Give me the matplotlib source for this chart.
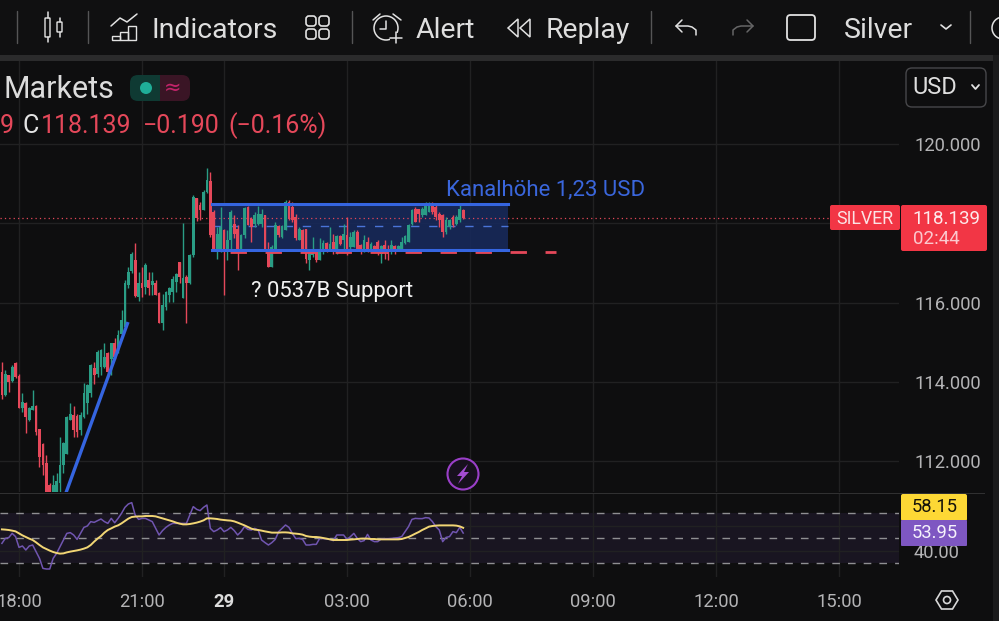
"""
Silver 5 min chart with channel and RSI pane
"""

import numpy as np
import matplotlib
matplotlib.use('Agg')
import matplotlib.pyplot as plt
from matplotlib.patches import Rectangle, FancyBboxPatch, Circle, Polygon

plt.rcParams['font.family'] = ['Roboto', 'DejaVu Sans']

# Candles (5 min)
opens = [114.25, 113.67, 114.17, 114.03, 114.48, 114.14, 113.33, 113.47, 113.03, 113.29,
         113.39, 112.80, 112.42, 111.94, 111.40, 111.00, 111.20, 111.44, 111.90, 112.19,
         113.05, 113.16, 113.14, 112.78, 113.12, 113.46, 113.71, 114.34, 114.21, 114.38,
         114.38, 114.72, 114.59, 114.97, 114.88, 115.20, 115.39, 116.44, 116.81, 117.07,
         116.15, 116.49, 116.40, 116.57, 116.44, 116.49, 116.25, 115.48, 115.90, 116.19,
         116.28, 116.53, 117.03, 116.11, 116.64, 116.49, 117.20, 118.63, 118.46, 118.35,
         118.80, 119.08, 118.29, 117.28, 117.36, 117.83, 117.28, 117.57, 117.99, 117.87,
         117.36, 117.70, 118.41, 118.12, 117.99, 117.99, 117.99, 118.20, 117.28, 116.90,
         117.36, 117.93, 117.66, 117.83, 118.54, 118.41, 118.16, 117.59, 117.84, 117.87,
         117.07, 117.20, 117.32, 117.07, 117.32, 117.51, 117.36, 117.53, 117.36, 117.68,
         117.57, 117.70, 117.41, 117.41, 117.78, 117.45, 117.32, 117.53, 117.30, 117.42,
         117.53, 117.24, 117.45, 117.36, 117.28, 117.42, 117.34, 117.36, 117.51, 117.53,
         117.99, 118.37, 118.37, 118.20, 118.20, 118.29, 118.50, 118.41, 118.25, 118.20,
         117.78, 117.91, 118.16, 117.99, 118.08, 118.35]
highs = [114.51, 114.30, 114.17, 114.42, 114.51, 114.21, 113.71, 113.50, 113.37, 113.79,
         113.41, 112.82, 112.45, 112.15, 111.44, 111.65, 111.69, 112.61, 112.49, 113.14,
         113.47, 113.39, 113.20, 113.24, 113.98, 113.94, 114.46, 114.51, 114.80, 114.84,
         114.99, 114.76, 114.97, 115.10, 115.31, 115.81, 116.57, 116.91, 117.28, 117.50,
         116.78, 116.91, 117.01, 116.78, 116.78, 116.57, 116.28, 116.23, 116.30, 116.40,
         116.67, 116.74, 117.03, 118.00, 116.70, 117.23, 118.71, 118.65, 118.55, 118.84,
         119.41, 119.30, 118.33, 117.91, 118.41, 117.87, 117.83, 118.33, 118.20, 117.95,
         117.74, 118.41, 118.43, 118.16, 118.29, 118.43, 118.37, 118.20, 117.53, 117.45,
         118.04, 117.95, 117.95, 118.58, 118.58, 118.54, 118.25, 117.91, 117.87, 117.87,
         117.32, 117.66, 117.36, 117.62, 117.57, 117.53, 117.91, 117.74, 117.70, 117.70,
         117.99, 118.16, 117.78, 117.83, 117.83, 117.49, 117.70, 117.66, 117.53, 117.45,
         117.57, 117.45, 117.57, 117.45, 117.57, 117.45, 117.45, 117.66, 117.70, 117.99,
         118.37, 118.41, 118.37, 118.41, 118.54, 118.54, 118.54, 118.46, 118.29, 118.25,
         118.16, 118.12, 118.20, 118.20, 118.50, 118.37]
lows = [113.58, 113.64, 113.75, 114.00, 114.09, 113.33, 113.24, 112.70, 113.00, 113.29,
        112.66, 111.86, 111.65, 111.00, 110.90, 110.90, 111.10, 111.20, 111.69, 112.19,
        113.03, 112.61, 112.61, 112.66, 113.08, 113.20, 113.62, 113.94, 114.13, 114.17,
        114.34, 114.21, 114.17, 114.59, 114.72, 115.18, 115.39, 116.36, 116.74, 116.15,
        116.05, 116.15, 116.23, 116.19, 116.19, 116.19, 115.48, 115.31, 115.81, 116.02,
        116.02, 116.28, 116.49, 116.11, 115.48, 116.47, 117.16, 118.07, 118.08, 118.34,
        118.76, 117.66, 117.32, 117.11, 117.28, 116.19, 117.07, 117.32, 117.62, 116.82,
        117.32, 117.62, 117.95, 117.53, 117.91, 117.95, 117.91, 117.32, 116.90, 116.90,
        117.28, 117.66, 117.62, 117.83, 118.08, 118.04, 117.57, 117.57, 117.32, 116.99,
        116.82, 117.15, 117.03, 117.07, 117.24, 117.28, 117.32, 117.24, 117.24, 117.45,
        117.32, 117.20, 117.36, 117.41, 117.32, 117.24, 117.28, 117.28, 117.28, 117.28,
        117.20, 116.99, 117.11, 117.07, 117.24, 117.24, 117.32, 117.36, 117.49, 117.53,
        117.95, 118.04, 118.04, 118.16, 118.20, 118.29, 118.25, 118.08, 117.91, 117.66,
        117.74, 117.87, 117.91, 117.95, 118.04, 118.12]
closes = [113.67, 114.21, 114.00, 114.38, 114.13, 113.35, 113.50, 113.12, 113.33, 113.39,
          112.74, 112.11, 111.90, 111.10, 111.00, 111.40, 111.50, 111.90, 112.45, 113.12,
          113.20, 112.78, 112.74, 113.16, 113.71, 113.92, 114.42, 114.17, 114.76, 114.80,
          114.63, 114.25, 114.97, 114.63, 115.18, 115.56, 116.49, 116.78, 117.23, 116.17,
          116.49, 116.36, 116.95, 116.36, 116.55, 116.19, 115.48, 115.94, 116.28, 116.38,
          116.59, 116.72, 116.65, 116.61, 116.50, 117.20, 118.67, 118.13, 118.34, 118.80,
          119.09, 117.71, 117.36, 117.74, 117.91, 117.32, 117.57, 118.29, 117.74, 117.32,
          117.70, 118.40, 117.95, 117.91, 118.20, 118.25, 118.25, 117.36, 116.90, 117.41,
          117.95, 117.70, 117.93, 118.54, 118.12, 118.08, 117.62, 117.87, 117.36, 117.11,
          117.28, 117.32, 117.07, 117.28, 117.51, 117.32, 117.49, 117.32, 117.68, 117.47,
          117.74, 117.32, 117.66, 117.78, 117.36, 117.28, 117.57, 117.28, 117.49, 117.30,
          117.28, 117.42, 117.28, 117.24, 117.45, 117.28, 117.42, 117.53, 117.67, 117.95,
          118.35, 118.04, 118.25, 118.37, 118.46, 118.50, 118.29, 118.16, 118.08, 117.78,
          118.08, 118.08, 117.95, 118.16, 118.37, 118.139]

# RSI and its moving average
rsi = [45.7, 49.7, 50.3, 53.7, 51.1, 42.5, 43.6, 40.4, 43.6, 44.4, 39.1, 33.7, 25.7, 25.2,
       25.2, 33.7, 37.7, 43.1, 48.4, 53.7, 54.3, 52.4, 48.9, 53.7, 58.5, 59.6, 63.1, 62.5,
       63.9, 65.2, 63.1, 61.7, 65.7, 62.2, 65.7, 69.7, 74.5, 77.2, 78.3, 68.4, 64.9, 65.7,
       65.7, 64.4, 63.1, 57.7, 52.4, 55.9, 58.5, 60.4, 61.7, 61.7, 61.7, 61.7, 61.7, 68.4,
       75.1, 72.9, 71.9, 74.5, 76.4, 57.7, 55.1, 56.4, 58.3, 55.1, 56.4, 58.5, 55.9, 52.4,
       55.1, 59.1, 56.9, 56.4, 57.7, 56.4, 48.4, 46.3, 44.4, 46.3, 48.9, 55.1, 57.7, 60.4,
       58.5, 53.7, 49.5, 49.7, 48.9, 44.4, 44.4, 44.9, 44.9, 49.7, 49.5, 49.2, 48.9, 47.9,
       52.4, 52.4, 52.4, 48.9, 51.1, 53.7, 49.7, 47.1, 47.9, 52.9, 48.4, 47.1, 47.1, 49.2,
       49.5, 49.5, 49.7, 50.0, 50.3, 51.1, 55.1, 59.1, 64.9, 65.7, 65.5, 65.5, 66.3, 66.0,
       63.1, 59.1, 56.4, 47.1, 50.5, 51.1, 55.1, 54.3, 58.5, 53.95]
rsi_ma = [56.9, 56.7, 56.4, 55.9, 55.3, 53.7, 52.1, 50.8, 49.5, 48.4, 46.5, 44.4, 42.5, 41.2,
          39.9, 38.8, 38.0, 37.5, 37.7, 38.5, 39.1, 39.6, 40.1, 40.7, 41.5, 42.5, 44.4, 47.1,
          49.5, 51.6, 54.3, 56.4, 57.7, 59.1, 60.1, 61.7, 63.6, 65.5, 66.8, 67.1, 67.3, 67.3,
          67.6, 67.6, 67.6, 67.3, 66.5, 65.7, 64.9, 64.1, 63.3, 62.3, 61.5, 60.9, 60.9, 61.2,
          61.7, 62.3, 63.1, 64.1, 65.7, 65.7, 65.5, 65.2, 64.7, 64.4, 64.1, 63.9, 63.3, 62.3,
          61.2, 60.1, 58.8, 57.5, 56.7, 56.4, 55.9, 55.3, 54.8, 54.3, 54.3, 54.3, 54.5, 54.5,
          54.3, 53.7, 53.5, 53.2, 52.7, 51.6, 51.1, 50.8, 50.8, 50.5, 50.0, 49.5, 48.9, 48.4,
          48.4, 48.4, 48.4, 48.4, 48.7, 48.9, 49.2, 49.5, 49.5, 49.5, 49.2, 49.2, 48.9, 48.9,
          48.9, 48.9, 48.9, 48.9, 48.9, 49.2, 50.0, 50.8, 52.1, 53.5, 54.8, 56.4, 57.7, 59.1,
          59.6, 59.9, 60.1, 60.1, 60.1, 60.1, 60.1, 59.9, 59.3, 58.15]

# Axis ticks, in bars from the first candle
time_ticks = [5, 41, 65, 101, 137, 173, 209, 245]
time_labels = ['18:00', '21:00', '29', '03:00', '06:00', '09:00', '12:00', '15:00']
price_ticks = [112, 114, 116, 118, 120]
price_labels = ['112.000', '114.000', '116.000', '', '120.000']
rsi_ticks = [40, 60]
rsi_labels = ['40.00', '']

# Drawings
last_price = 118.139
channel_top = 118.50
channel_bottom = 117.33
channel_mid = 117.93
support_level = 117.28
channel_start, channel_end = 61.5, 148.1
trend_x = [18.75, 36.9]
trend_y = [111.2, 115.51]

BG = '#0e0e0f'
GRID = '#212122'
GREEN = '#2a9d85'
RED = '#e5485a'
BLUE = '#3565e0'
LABEL = '#b4b4b6'
W, H = 999, 621


def add_axes_px(fig, left, top, right, bottom, **kw):
    return fig.add_axes([left / W, 1 - bottom / H, (right - left) / W, (bottom - top) / H], **kw)


fig = plt.figure(figsize=(W / 100, H / 100), dpi=100, facecolor=BG)

# Price pane
ax = add_axes_px(fig, 0, 61, 899, 492, facecolor=BG)
x = np.arange(len(closes))
o, h, l, c = map(np.array, (opens, highs, lows, closes))
colors = np.where(c >= o, GREEN, RED)
ax.fill_between([channel_start, channel_end], channel_bottom, channel_top,
                color='#17295a', alpha=0.9, lw=0, zorder=2.2)
ax.plot([channel_start, channel_end], [channel_mid] * 2, color='#4a74d8', lw=1,
        ls=(0, (6, 7)), zorder=2.4)
ax.vlines(x, l, h, colors=colors, lw=1.0, zorder=3)
ax.bar(x, np.maximum(np.abs(c - o), 0.02), bottom=np.minimum(o, c), width=0.8,
       color=colors, lw=0, zorder=3)

ax.axhline(last_price, color=RED, lw=0.9, ls=(0, (1, 2.5)), zorder=2.6)
ax.plot([channel_start, 162.2], [support_level] * 2, color=RED, lw=2,
        ls=(6.1, (5.9, 6.7)), zorder=4)
ax.plot([channel_start, channel_end], [channel_top] * 2, color=BLUE, lw=2.2, zorder=5)
ax.plot([channel_start, channel_end], [channel_bottom] * 2, color=BLUE, lw=2.2, zorder=5)
ax.plot(trend_x, trend_y, color=BLUE, lw=2.4, zorder=5, solid_capstyle='butt')
ax.text(130, 118.84, 'Kanalhöhe 1,23 USD', color='#3a66dc', fontsize=15.9,
        va='center', ha='left', zorder=6)
ax.text(73, 116.27, '? 0537B Support', color='#f2f2f2', fontsize=15.8,
        va='center', ha='left', zorder=6)

ax.set_xlim(-0.56, 262.55)
ax.set_ylim(111.22, 122.10)
ax.set_xticks(time_ticks)
ax.set_xticklabels([])
ax.yaxis.tick_right()
ax.set_yticks(price_ticks)
ax.set_yticklabels(price_labels, color=LABEL, fontsize=13.2)
ax.tick_params(length=0, pad=10.8)
ax.grid(True, color=GRID, lw=1)
ax.set_axisbelow(True)
for s in ax.spines.values():
    s.set_visible(False)

# RSI pane
ax2 = add_axes_px(fig, 0, 494, 899, 577, facecolor=BG)
ax2.axhspan(30, 70, color='#7e57c2', alpha=0.10, lw=0)
for lev in (30, 50, 70):
    ax2.axhline(lev, color='#8f8f92', lw=1, ls=(0, (5.5, 5.8)), zorder=2)
ax2.plot(x, rsi, color='#7055b0', lw=1.1, zorder=3)
ax2.plot(x, rsi_ma, color='#f2d675', lw=1.4, zorder=4)
ax2.set_xlim(-0.56, 262.55)
ax2.set_ylim(18.8, 85.2)
ax2.set_xticks(time_ticks)
ax2.set_xticklabels(time_labels, color=LABEL, fontsize=13.2)
ax2.get_xticklabels()[2].set_fontweight('bold')
ax2.get_xticklabels()[2].set_color('#dcdcdc')
ax2.yaxis.tick_right()
ax2.set_yticks(rsi_ticks)
ax2.set_yticklabels(rsi_labels, color=LABEL, fontsize=13.2)
ax2.tick_params(axis='x', length=0, pad=11.8)
ax2.tick_params(axis='y', length=0, pad=10.8)
ax2.grid(True, color=GRID, lw=1)
for s in ax2.spines.values():
    s.set_visible(False)

# Toolbar and labels, in pixels
ui = fig.add_axes([0, 0, 1, 1], facecolor='none', zorder=10)
ui.set_xlim(0, W)
ui.set_ylim(H, 0)
ui.axis('off')

TXT = '#dedede'
ICON = '#e2e2e2'


def line(xs, ys, color=ICON, lw=1.1):
    ui.plot(xs, ys, color=color, lw=lw, solid_capstyle='round')


def rbox(x0, y0, x1, y1, r=2, fc='none', ec='none', lw=1.0):
    ui.add_patch(FancyBboxPatch((x0 + r, y0 + r), x1 - x0 - 2 * r, y1 - y0 - 2 * r,
                                boxstyle=f'round,pad={r},rounding_size={r}',
                                fc=fc, ec=ec, lw=lw))


def label(px, py, s, **kw):
    # va='center' sits a little high for this font
    kw.setdefault('va', 'center')
    ui.text(px, py + 2, s, **kw)


ui.add_patch(Rectangle((0, 0), W, 55, fc='#101011', lw=0))
ui.add_patch(Rectangle((0, 55), W, 6, fc='#2b2b2c', lw=0))
ui.add_patch(Rectangle((993, 55), 6, H, fc='#1b1b1c', lw=0))
ui.add_patch(Rectangle((0, 492.5), 985, 1, fc='#303031', lw=0))

for sx in (17, 88, 352, 651, 970):
    line([sx, sx], [11, 43], color='#555556', lw=1)

# candle icon
rbox(45, 18, 50, 37, r=0.5, ec=ICON)
rbox(57, 22, 62, 32, r=0.5, ec=ICON)
line([47.5, 47.5], [12, 18]); line([47.5, 47.5], [37, 42])
line([59.5, 59.5], [18, 22]); line([59.5, 59.5], [32, 37])
# indicators icon
line([111, 120, 127, 137], [26, 18, 22, 14])
for bx, bt in ((112, 36), (120, 32), (128, 26)):
    ui.add_patch(Rectangle((bx, bt), 8, 40 - bt, fc='none', ec=ICON, lw=1))
# grid icon
for gx in (306, 319):
    for gy in (16, 29):
        rbox(gx, gy, gx + 10, gy + 10, r=3, ec=ICON, lw=1.2)
# alert icon
ui.add_patch(Circle((386, 28), 12, fc='none', ec=ICON, lw=1.1))
ui.add_patch(Rectangle((390, 33), 12, 12, fc='#101011', lw=0))
line([386, 386, 380], [21, 29, 29])
line([396, 396], [32, 43]); line([390, 402], [38, 38])
line([373, 380], [20, 14]); line([393, 401], [14, 20])
# replay icon
ui.add_patch(Polygon([[518, 19], [508, 28], [518, 37]], closed=True, fc='none', ec=ICON, lw=1.1))
ui.add_patch(Polygon([[530, 19], [520, 28], [530, 37]], closed=True, fc='none', ec=ICON, lw=1.1))
# undo and redo
line([682, 676, 682], [20, 26, 32])
line([676, 688, 692, 696, 696], [26, 26, 27, 30, 35])
line([747, 753, 747], [20, 26, 32], color='#666667')
line([753, 741, 737, 733, 733], [26, 26, 27, 30, 35], color='#666667')
# layout square
rbox(787, 15, 815, 40, r=3.5, ec=ICON, lw=1.3)
# dropdown chevron and the cut off circle
line([941, 946, 951], [25, 29, 25], lw=1.2)
ui.add_patch(Circle((1003, 28), 11, fc='none', ec=ICON, lw=1.1))

fs = 20.4
label(151, 28, 'Indicators', color=TXT, fontsize=fs)
label(416, 28, 'Alert', color=TXT, fontsize=fs)
label(546, 28, 'Replay', color=TXT, fontsize=fs)
label(844, 28, 'Silver', color=TXT, fontsize=fs)

# symbol header
label(4, 87, 'Markets', color='#dcdcdc', fontsize=22)
rbox(130, 75, 160, 101, r=8, fc='#0f3a33')
rbox(158, 75, 190, 101, r=8, fc='#3a1525')
ui.add_patch(Rectangle((150, 75), 10, 26, fc='#0f3a33', lw=0))
ui.add_patch(Rectangle((160, 75), 10, 26, fc='#3a1525', lw=0))
ui.add_patch(Circle((146, 88), 6, fc='#1fae98', lw=0))
ui.text(173, 88, '≈', color='#c2246a', fontsize=15, va='center', ha='center',
        family='DejaVu Sans')

ry = 124
label(0, ry, '9', color=RED, fontsize=18)
label(22, ry, 'C', color='#e4e4e4', fontsize=18)
label(41, ry, '118.139', color=RED, fontsize=18)
label(143, ry, '−0.190', color=RED, fontsize=18)
label(228, ry, '(−0.16%)', color=RED, fontsize=18)

# currency box
rbox(906, 68, 986, 107, r=6, fc='#0e0e0f', ec='#47474a', lw=1)
label(912, 86, 'USD', color=TXT, fontsize=17)
line([972, 975.5, 979], [85, 89, 85], lw=1.3)

# price labels
rbox(830, 205, 900, 230, r=2, fc='#f23645')
label(865, 216.5, 'SILVER', color='#fbe3e5', fontsize=12.8, ha='center')
rbox(901, 205, 987, 251, r=2, fc='#f23645')
label(946, 216.5, '118.139', color='#fdeaec', fontsize=13.5, ha='center')
label(913, 237.5, '02:44', color='#fbc9ce', fontsize=13.5, ha='left')

# RSI labels, the 40.00 tick label stays behind them
rbox(901, 494, 967, 521, r=2, fc='#fdd835')
rbox(901, 520, 967, 546, r=1, fc='#7e57c2')
label(935, 505.5, '58.15', color='#15130a', fontsize=13.2, ha='center')
label(935, 531, '53.95', color='#f6f3fc', fontsize=13.2, ha='center')

# settings hexagon
ui.add_patch(Polygon([[936, 600], [941.5, 591], [952.5, 591], [958, 600], [952.5, 609], [941.5, 609]],
                     closed=True, fc='none', ec='#d8d8d8', lw=1.2))
ui.add_patch(Circle((947, 600), 3.5, fc='none', ec='#d8d8d8', lw=1.2))

# lightning marker
ui.add_patch(Circle((463, 474), 15.5, fc='#17101d', ec='#9a3fc8', lw=1.5))
ui.add_patch(Polygon([[468, 464], [457, 476], [462, 476], [458, 484], [469, 472], [464, 472]],
                     closed=True, fc='#a44cd2', lw=0))

fig.savefig('out.png', dpi=100, facecolor=BG)
